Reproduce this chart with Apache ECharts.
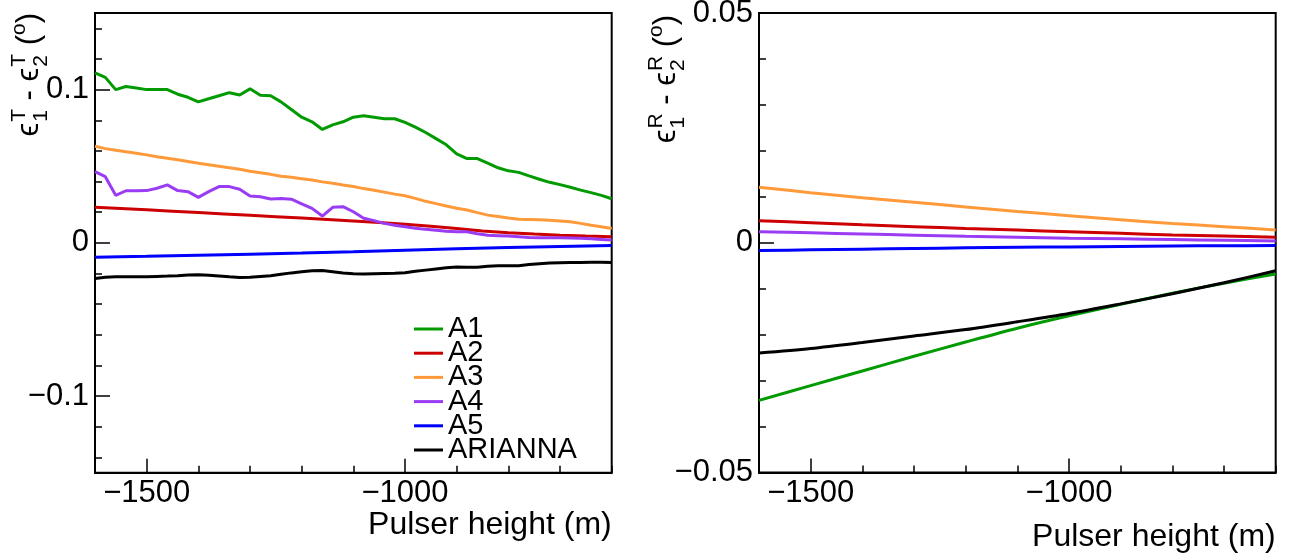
<!DOCTYPE html>
<html><head><meta charset="utf-8">
<script src="https://cdn.jsdelivr.net/npm/echarts@6/dist/echarts.min.js"></script>
<style>html,body{margin:0;padding:0;background:#fff}#c{width:1289px;height:556px}</style>
</head><body><div id="c"></div>
<script>
// ---------- data ----------
const seriesNames = ['A1', 'A2', 'A3', 'A4', 'A5', 'ARIANNA'];
const seriesColors = ['#019a01', '#cc0000', '#ff9a3a', '#9b3cf5', '#0000ff', '#000000'];

const heights20 = [-1600,-1580,-1560,-1540,-1520,-1500,-1480,-1460,-1440,-1420,-1400,-1380,-1360,-1340,-1320,-1300,-1280,-1260,-1240,-1220,-1200,-1180,-1160,-1140,-1120,-1100,-1080,-1060,-1040,-1020,-1000,-980,-960,-940,-920,-900,-880,-860,-840,-820,-800,-780,-760,-740,-720,-700,-680,-660,-640,-620,-600];
const heights50 = [-1600,-1550,-1500,-1450,-1400,-1350,-1300,-1250,-1200,-1150,-1100,-1050,-1000,-950,-900,-850,-800,-750,-700,-650,-600];
const heights100 = [-1600,-1500,-1400,-1300,-1200,-1100,-1000,-900,-800,-700,-600];

// left panel: eps1^T - eps2^T (deg)
const tA1 = [0.111,0.108,0.100,0.102,0.101,0.100,0.100,0.100,0.097,0.095,0.092,0.094,0.096,0.098,0.0965,0.1005,0.0963,0.096,0.092,0.087,0.082,0.079,0.074,0.077,0.079,0.082,0.083,0.082,0.081,0.081,0.0786,0.0755,0.072,0.068,0.064,0.058,0.055,0.055,0.052,0.049,0.047,0.046,0.0437,0.0415,0.0395,0.038,0.0363,0.0344,0.0328,0.031,0.0288];
const tA2 = [0.0232,0.0224,0.0216,0.0207,0.0198,0.0189,0.018,0.0171,0.0162,0.0153,0.0143,0.0133,0.0122,0.0108,0.0094,0.0077,0.0066,0.0057,0.005,0.0044,0.0039];
const tA3 = [0.063,0.0615,0.0605,0.0595,0.0585,0.0574,0.0562,0.0552,0.0542,0.0531,0.052,0.051,0.050,0.049,0.048,0.0467,0.0457,0.0447,0.0435,0.0428,0.0419,0.041,0.0398,0.0389,0.0378,0.0368,0.0354,0.0343,0.0331,0.0318,0.0307,0.029,0.0271,0.0256,0.0241,0.0226,0.0214,0.0197,0.0181,0.0172,0.0162,0.0154,0.0153,0.0151,0.0147,0.0143,0.0138,0.0127,0.0115,0.0105,0.0094];
const tA4 = [0.0465,0.0432,0.031,0.034,0.034,0.0341,0.0356,0.0378,0.0341,0.0334,0.0297,0.0334,0.0367,0.0367,0.035,0.0306,0.0301,0.0286,0.029,0.0285,0.0255,0.0225,0.0175,0.0232,0.0236,0.0203,0.016,0.0145,0.0127,0.0115,0.0105,0.0096,0.0088,0.0082,0.0076,0.0072,0.0072,0.006,0.005,0.0047,0.0044,0.004,0.0035,0.0034,0.0033,0.0033,0.0032,0.003,0.0026,0.0022,0.0018];
const tA5 = [-0.0094,-0.0088,-0.0081,-0.0074,-0.0067,-0.0058,-0.0048,-0.0039,-0.0031,-0.0024,-0.0017];
const tARIANNA = [-0.0233,-0.0225,-0.0222,-0.0222,-0.0221,-0.0221,-0.0219,-0.0217,-0.0214,-0.021,-0.0208,-0.0212,-0.0217,-0.0222,-0.0226,-0.0224,-0.0219,-0.0214,-0.0205,-0.0196,-0.0189,-0.0182,-0.018,-0.0188,-0.0197,-0.0202,-0.0204,-0.0202,-0.02,-0.0199,-0.0195,-0.0186,-0.0178,-0.017,-0.0162,-0.0157,-0.016,-0.0159,-0.0153,-0.0149,-0.015,-0.0149,-0.0142,-0.0136,-0.0132,-0.013,-0.0128,-0.0128,-0.0127,-0.0127,-0.0128];

// right panel: eps1^R - eps2^R (deg)
const rA1 = [-0.0343,-0.0311,-0.0279,-0.0247,-0.0216,-0.0186,-0.0159,-0.0134,-0.011,-0.0088,-0.0068];
const rA2 = [0.0048,0.00435,0.0039,0.0035,0.0031,0.00275,0.0024,0.00205,0.0017,0.00145,0.0012];
const rA3 = [0.0121,0.0109,0.0098,0.0088,0.0078,0.0068,0.0059,0.005,0.0042,0.0035,0.0028];
const rA4 = [0.0024,0.00215,0.0019,0.00165,0.0014,0.0012,0.001,0.00085,0.0007,0.00055,0.0004];
const rA5 = [-0.0017,-0.00155,-0.0014,-0.00125,-0.0011,-0.001,-0.0009,-0.0008,-0.0007,-0.00065,-0.0006];
const rARIANNA = [-0.024,-0.023,-0.0217,-0.0203,-0.0189,-0.0172,-0.0154,-0.0133,-0.0111,-0.0087,-0.0061];

// tick labels / tick positions
const xMajorTicks = [-1500, -1000];
const xMinorStep = 100;
const leftYMajor = [-0.1, 0, 0.1];
const leftYMinor = [-0.14,-0.12,-0.1,-0.08,-0.06,-0.04,-0.02,0,0.02,0.04,0.06,0.08,0.1,0.12,0.14];
const rightYMajor = [-0.05, 0, 0.05];
const rightYMinor = [-0.04,-0.03,-0.02,-0.01,0,0.01,0.02,0.03,0.04];
const xTitle = 'Pulser height (m)';

// ---------- chart ----------
const FONT = '"Liberation Sans", Arial, Helvetica, sans-serif';
const chart = echarts.init(document.getElementById('c'), null, {renderer: 'canvas'});
const fmt = v => (v < 0 ? '\u2212' + String(Math.abs(v)) : String(v));

const grids = [
  {left: 95, top: 13, width: 516.7, height: 459.7},
  {left: 759, top: 13, width: 516.7, height: 459.5}
].map(g => Object.assign({show: true, borderColor: '#000', borderWidth: 2, backgroundColor: 'transparent', containLabel: false, outerBoundsMode: 'none'}, g));

const tickStyle = {color: '#000', width: 1.5};
const xAxes = [], yAxes = [];
[0, 1].forEach(gi => {
  xAxes.push({gridIndex: gi, type: 'value', min: -1600, max: -600, position: 'bottom',
    axisLine: {show: true, onZero: false, lineStyle: {color: '#000', width: 2}},
    axisTick: {show: true, inside: true, length: 14, customValues: xMajorTicks, lineStyle: tickStyle},
    axisLabel: {show: true, customValues: xMajorTicks, formatter: fmt, fontSize: 31, fontFamily: FONT, color: '#000', margin: 5},
    splitLine: {show: false}});
  xAxes.push({gridIndex: gi, type: 'value', min: -1600, max: -600, interval: xMinorStep, position: 'bottom',
    axisLine: {show: false, onZero: false},
    axisTick: {show: true, inside: true, length: 7, lineStyle: tickStyle},
    axisLabel: {show: false}, splitLine: {show: false}});
  const lim = gi === 0 ? 0.15 : 0.05;
  const maj = gi === 0 ? leftYMajor : rightYMajor;
  const mnr = gi === 0 ? leftYMinor : rightYMinor;
  yAxes.push({gridIndex: gi, type: 'value', min: -lim, max: lim, position: 'left',
    axisLine: {show: true, onZero: false, lineStyle: {color: '#000', width: 2}},
    axisTick: {show: true, inside: true, length: 15, customValues: maj, lineStyle: tickStyle},
    axisLabel: {show: true, customValues: maj, formatter: fmt, fontSize: 31, fontFamily: FONT, color: '#000', margin: 6},
    splitLine: {show: false}});
  yAxes.push({gridIndex: gi, type: 'value', min: -lim, max: lim, position: 'left',
    axisLine: {show: false, onZero: false},
    axisTick: {show: true, inside: true, length: 7, customValues: mnr, lineStyle: tickStyle},
    axisLabel: {show: false}, splitLine: {show: false}});
});

const pair = (xs, ys) => xs.map((x, i) => [x, ys[i]]);
const leftData = [pair(heights20, tA1), pair(heights50, tA2), pair(heights20, tA3), pair(heights20, tA4), pair(heights100, tA5), pair(heights20, tARIANNA)];
const rightData = [pair(heights100, rA1), pair(heights100, rA2), pair(heights100, rA3), pair(heights100, rA4), pair(heights100, rA5), pair(heights100, rARIANNA)];

const series = [];
seriesNames.forEach((n, i) => {
  series.push({name: n, type: 'line', xAxisIndex: 0, yAxisIndex: 0, data: leftData[i], showSymbol: false, symbol: 'none',
    lineStyle: {color: seriesColors[i], width: 3}, itemStyle: {color: seriesColors[i]}, z: 2 + i});
});
seriesNames.forEach((n, i) => {
  series.push({name: n, type: 'line', xAxisIndex: 2, yAxisIndex: 2, data: rightData[i], showSymbol: false, symbol: 'none', smooth: 0.3,
    lineStyle: {color: seriesColors[i], width: 3}, itemStyle: {color: seriesColors[i]}, z: 2 + i});
});

// ---------- y-axis titles with stacked sub/superscripts ----------
const mctx = document.createElement('canvas').getContext('2d');
function mw(t, size) { mctx.font = size + 'px ' + FONT; return mctx.measureText(t).width; }
function yTitle(letter, baseX, endY) {
  const F = 31, S = 21, up = -14, down = 8;
  const parts = [];
  let u = 0;
  const add = (t, size, dv) => { parts.push({t, size, u, dv}); return mw(t, size); };
  const eps = '\u03F5';
  u += add(eps, F, 0) + 1;
  let w1 = add('1', S, down), w2 = add(letter, S, up); u += Math.max(w1, w2);
  u += add(' - ', F, 0);
  u += add(eps, F, 0) + 1;
  w1 = add('2', S, down); w2 = add(letter, S, up); u += Math.max(w1, w2);
  u += add(' (', F, 0);
  u += add('o', S, up) ;
  u += add(')', F, 0);
  const W = u;
  return {type: 'group', x: baseX, y: endY + W, rotation: Math.PI / 2, silent: true,
    children: parts.map(p => ({type: 'text', x: p.u, y: p.dv - 0.3465 * p.size,
      style: {text: p.t, fontSize: p.size, fontFamily: FONT, fill: '#000', align: 'left', verticalAlign: 'middle'}}))};
}

const graphic = [
  {type: 'text', x: 611.7, y: 524.7, silent: true, style: {text: xTitle, fontSize: 32, fontFamily: FONT, fill: '#000', align: 'right', verticalAlign: 'middle'}},
  {type: 'text', x: 1275.7, y: 536.7, silent: true, style: {text: xTitle, fontSize: 32, fontFamily: FONT, fill: '#000', align: 'right', verticalAlign: 'middle'}},
  yTitle('T', 40, 13),
  yTitle('R', 677, 15)
];

chart.setOption({
  animation: false,
  backgroundColor: '#fff',
  grid: grids,
  xAxis: xAxes,
  yAxis: yAxes,
  legend: {data: seriesNames, orient: 'vertical', left: 414, top: 314.5, itemWidth: 29, itemHeight: 3, itemGap: -4.8,
    icon: 'rect', selectedMode: false, padding: 0,
    textStyle: {fontSize: 29, fontFamily: FONT, color: '#000'}},
  series: series,
  graphic: graphic
});
</script>
</body></html>
